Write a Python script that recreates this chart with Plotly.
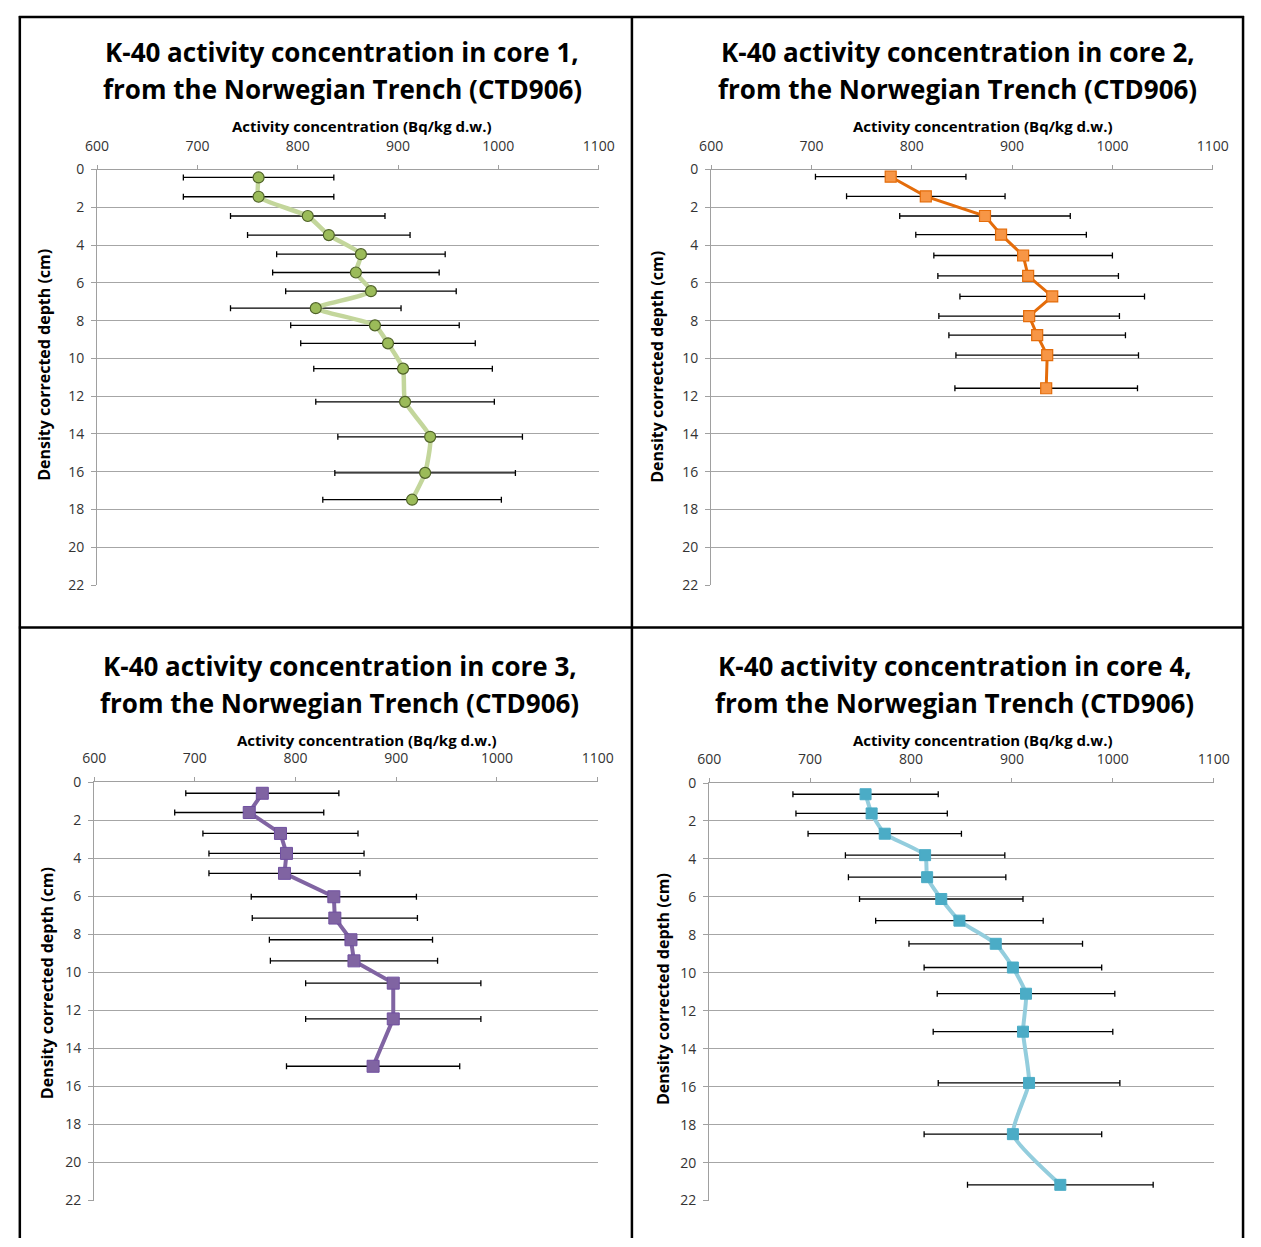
import plotly.graph_objects as go

W, H = 1261, 1247

core1_depth = [0.42, 1.44, 2.46, 3.47, 4.48, 5.45, 6.44, 7.34, 8.25, 9.2, 10.54, 12.3, 14.15, 16.06, 17.48]
core1_act = [761, 761, 810, 831, 863, 858, 873, 818, 877, 890, 905, 907, 932, 927, 914]
core1_err = [75, 75, 77, 81, 84, 83, 85, 85, 84, 87, 89, 89, 92, 90, 89]

core2_depth = [0.38, 1.42, 2.46, 3.45, 4.55, 5.63, 6.72, 7.76, 8.77, 9.83, 11.58]
core2_act = [779, 814, 873, 889, 911, 916, 940, 917, 925, 935, 934]
core2_err = [75, 79, 85, 85, 89, 90, 92, 90, 88, 91, 91]

core3_depth = [0.59, 1.6, 2.7, 3.75, 4.8, 6.03, 7.15, 8.29, 9.4, 10.57, 12.45, 14.94]
core3_act = [767, 754, 785, 791, 789, 838, 839, 855, 858, 897, 897, 877]
core3_err = [76, 74, 77, 77, 75, 82, 82, 81, 83, 87, 87, 86]

core4_depth = [0.59, 1.6, 2.67, 3.8, 4.96, 6.11, 7.25, 8.47, 9.72, 11.1, 13.1, 15.8, 18.5, 21.17]
core4_act = [755, 761, 774, 814, 816, 830, 848, 884, 901, 914, 911, 917, 901, 948]
core4_err = [72, 75, 76, 79, 78, 81, 83, 86, 88, 88, 89, 90, 88, 92]

x_ticks = [600, 700, 800, 900, 1000, 1100]
y_ticks = [0, 2, 4, 6, 8, 10, 12, 14, 16, 18, 20, 22]

title_line1 = "K-40 activity concentration in core {},"
title_line2 = "from the Norwegian Trench (CTD906)"
x_title = "Activity concentration (Bq/kg d.w.)"
y_title = "Density corrected depth (cm)"

FONT = "Open Sans"

def px(x):
    return x / W

def py(y):
    return 1 - y / H

panels = [
    dict(d=core1_depth, a=core1_act, e=core1_err, n=1, area=(87, 600, 162, 584),
         tc=(338, 43, 80), xt=(358, 118), yt=(32, 360),
         line=dict(color="#c3d69b", width=4.5, shape="spline", smoothing=0.5),
         marker=dict(symbol="circle", size=11, color="#9bbb59", line=dict(color="#4f6228", width=1.2))),
    dict(d=core2_depth, a=core2_act, e=core2_err, n=2, area=(715, 1228, 162, 584),
         tc=(967, 43, 80), xt=(993, 118), yt=(660, 362),
         line=dict(color="#e46c0a", width=3),
         marker=dict(symbol="square", size=11, color="#f79646", line=dict(color="#e46c0a", width=1.2))),
    dict(d=core3_depth, a=core3_act, e=core3_err, n=3, area=(84, 599, 784, 1209),
         tc=(335, 666, 704), xt=(363, 741), yt=(36, 988),
         line=dict(color="#8064a2", width=4),
         marker=dict(symbol="square", size=12, color="#8064a2", line=dict(color="#7050a0", width=1))),
    dict(d=core4_depth, a=core4_act, e=core4_err, n=4, area=(713, 1229, 785, 1209),
         tc=(964, 666, 704), xt=(993, 741), yt=(666, 994),
         line=dict(color="#93cddd", width=4, shape="spline", smoothing=0.5),
         marker=dict(symbol="square", size=11, color="#4bacc6", line=dict(color="#4bacc6", width=1))),
]

fig = go.Figure()
annotations = []
layout_axes = {}

for i, p in enumerate(panels, start=1):
    sfx = "" if i == 1 else str(i)
    x0, x1, y0, y1 = p["area"]
    fig.add_trace(go.Scatter(
        x=p["a"], y=p["d"], mode="lines+markers",
        line=p["line"], marker=p["marker"],
        error_x=dict(type="data", array=p["e"], symmetric=True, color="#000000",
                     thickness=1.3, width=3),
        xaxis="x" + sfx, yaxis="y" + sfx, showlegend=False, hoverinfo="skip",
    ))
    layout_axes["xaxis" + sfx] = dict(
        domain=[px(x0), px(x1)], anchor="y" + sfx, side="top",
        range=[600, 1100], tickvals=x_ticks, showgrid=False, zeroline=False,
        showline=True, linecolor="#a0a0a0", linewidth=1,
        ticks="outside", ticklen=4, tickcolor="#a0a0a0", ticklabelstandoff=8,
        tickfont=dict(family=FONT, size=14, color="#333333"),
    )
    layout_axes["yaxis" + sfx] = dict(
        domain=[py(y1), py(y0)], anchor="x" + sfx,
        range=[22, 0], tickvals=y_ticks, showgrid=True, gridcolor="#a6a6a6", gridwidth=1,
        zeroline=False, showline=True, linecolor="#a0a0a0", linewidth=1,
        ticks="outside", ticklen=5, tickcolor="#a0a0a0", ticklabelstandoff=4,
        tickfont=dict(family=FONT, size=14, color="#333333"),
    )
    cx, ty1, ty2 = p["tc"]
    annotations.append(dict(text="<b>" + title_line1.format(p["n"]) + "</b>", x=px(cx), y=py(ty1),
                            xref="paper", yref="paper", showarrow=False, xanchor="center", yanchor="middle",
                            font=dict(family=FONT, size=26, color="#000000")))
    annotations.append(dict(text="<b>" + title_line2 + "</b>", x=px(cx), y=py(ty2),
                            xref="paper", yref="paper", showarrow=False, xanchor="center", yanchor="middle",
                            font=dict(family=FONT, size=26, color="#000000")))
    annotations.append(dict(text="<b>" + x_title + "</b>", x=px(p["xt"][0]), y=py(p["xt"][1]),
                            xref="paper", yref="paper", showarrow=False, xanchor="center", yanchor="middle",
                            font=dict(family=FONT, size=15, color="#000000")))
    annotations.append(dict(text="<b>" + y_title + "</b>", x=px(p["yt"][0]), y=py(p["yt"][1]),
                            xref="paper", yref="paper", showarrow=False, textangle=-90,
                            xanchor="center", yanchor="middle",
                            font=dict(family=FONT, size=16, color="#000000")))

shapes = []
for xv in [8, 634, 1259]:
    shapes.append(dict(type="line", xref="paper", yref="paper", x0=px(xv), x1=px(xv), y0=py(6), y1=py(1247),
                       line=dict(color="#000000", width=2.5)))
for yv in [7, 627]:
    shapes.append(dict(type="line", xref="paper", yref="paper", x0=px(7), x1=px(1260), y0=py(yv), y1=py(yv),
                       line=dict(color="#000000", width=2.5)))

fig.update_layout(
    width=W, height=H, margin=dict(l=0, r=0, t=0, b=0),
    paper_bgcolor="#ffffff", plot_bgcolor="#ffffff",
    annotations=annotations, shapes=shapes, **layout_axes,
)

fig.write_html("out.html",
               post_script="document.body.style.margin='0';document.body.style.overflow='hidden';",
               config={"displayModeBar": False})
